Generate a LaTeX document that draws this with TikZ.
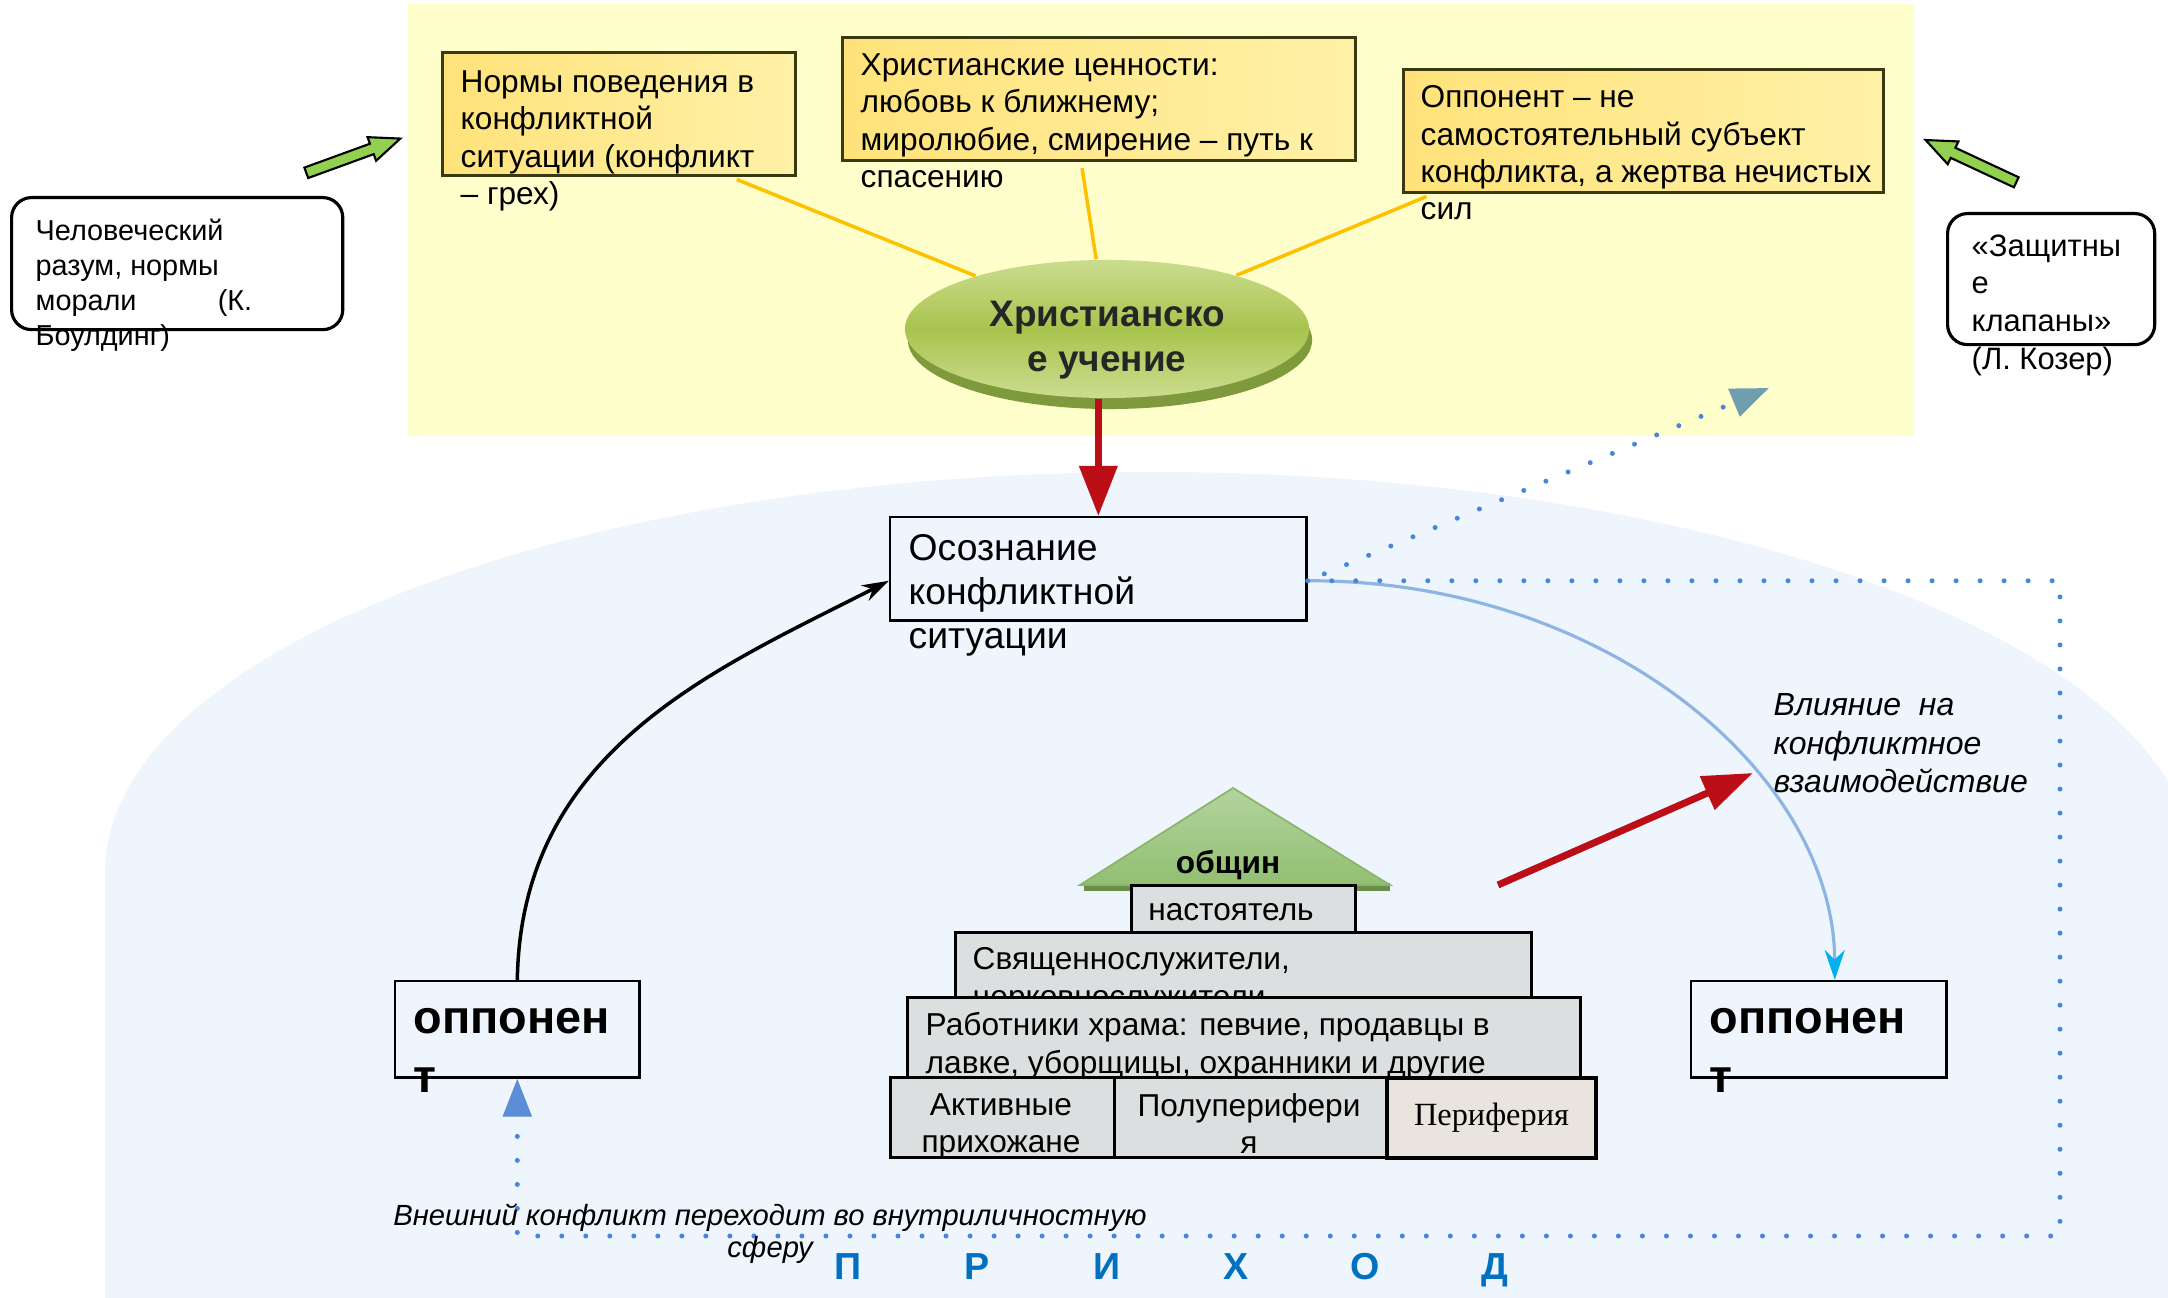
\documentclass[tikz,border=0pt]{standalone}
\usepackage{fontspec}
\setmainfont{Liberation Sans}
\newfontfamily\serifcyr{Liberation Serif}
\usetikzlibrary{positioning,shapes.geometric,shapes.arrows,arrows.meta,shadows}

\definecolor{bgyellow}{HTML}{FFFFCC}
\definecolor{bgblue}{HTML}{EEF5FD}
\definecolor{boxyellowA}{HTML}{FFE27A}
\definecolor{boxyellowB}{HTML}{FFF1A8}
\definecolor{boxborder}{HTML}{3A3A12}
\definecolor{linkyellow}{HTML}{FFC000}
\definecolor{elgreen}{HTML}{A9C34E}
\definecolor{elgreenlight}{HTML}{CADD8F}
\definecolor{elshadow}{HTML}{7E9A3C}
\definecolor{arrgreen}{HTML}{92D050}
\definecolor{redarrow}{HTML}{BC0E17}
\definecolor{dotblue}{HTML}{4A86D8}
\definecolor{tipblue}{HTML}{5B8ED6}
\definecolor{curveblue}{HTML}{8DB4E2}
\definecolor{tipcyan}{HTML}{00B0F0}
\definecolor{tipteal}{HTML}{6F9FAF}
\definecolor{roofgreen}{HTML}{92BF72}
\definecolor{rooflight}{HTML}{B3D49E}
\definecolor{roofdark}{HTML}{6A8E4A}
\definecolor{roofborder}{HTML}{8BB56B}
\definecolor{tiergray}{HTML}{DCDFE0}
\definecolor{tierbeige}{HTML}{E9E5DE}
\definecolor{prihodblue}{HTML}{0070C0}

\begin{document}
\begin{tikzpicture}[x=0.01cm, y=-0.01cm,
            ybox/.style={draw=boxborder, line width=0.9pt, left color=boxyellowA, right color=boxyellowB, rectangle, inner sep=0pt, anchor=north west},
            note/.style={draw, line width=0.9pt, fill=white, rounded corners=0.2cm, inner sep=0pt, anchor=north west},
            framebox/.style={draw, line width=0.7pt, fill=bgblue, rectangle, inner sep=0pt, anchor=north west},
            tier/.style={draw, line width=0.8pt, fill=tiergray, rectangle, inner sep=0pt, anchor=north west, align=center, font=\fontsize{9}{10.6}\selectfont},
            txt/.style={inner sep=0pt, anchor=north west, align=left},
            boxfont/.style={font=\fontsize{9}{10.6}\selectfont},
            oppfont/.style={font=\bfseries\fontsize{13.3}{16.8}\selectfont},
            link/.style={linkyellow, line width=1pt, shorten <=0.06cm},
            greenarrow/.style={single arrow, draw=black, line width=0.6pt, fill=arrgreen, minimum height=1cm, inner xsep=0pt, inner ysep=0.045cm, single arrow head extend=0.07cm, single arrow tip angle=45},
            redline/.style={redarrow, line width=0.07cm, -{Triangle[width=0.37cm, length=0.5cm]}},
            dotline/.style={dotblue, line width=0.05cm, line cap=round, dash pattern=on 0pt off 0.24cm}
        ]

        \useasboundingbox (0, 0) rectangle (2168, 1298);
        \fill [bgyellow] (408, 4) rectangle (1914, 436);
        \fill [bgblue] (105, 1298) -- (105, 872)
            .. controls (105, 651) and (573, 472) .. (1150, 472)
            .. controls (1727, 472) and (2195, 651) .. (2195, 872) -- (2195, 1298) -- cycle;

        \node [ybox, minimum width=3.53cm, minimum height=1.23cm] (norms) at (441, 51) {};
        \node [txt, boxfont] (normstxt) at (460, 70) {Нормы поведения в\\конфликтной\\ситуации (конфликт\\– грех)};
        \node [ybox, minimum width=5.13cm, minimum height=1.23cm] (values) at (841, 36) {};
        \node [txt, boxfont] (valuestxt) at (860, 53) {Христианские ценности:\\любовь к ближнему;\\миролюбие, смирение – путь к\\спасению};
        \node [ybox, minimum width=4.8cm, minimum height=1.23cm] (victim) at (1402, 68) {};
        \node [txt, boxfont] (victimtxt) at (1420, 85) {Оппонент – не\\самостоятельный субъект\\конфликта, а жертва нечистых\\сил};

        \fill [elshadow] (1110, 340) ellipse [x radius=2.02cm, y radius=0.69cm];
        \node [ellipse, minimum width=4.04cm, minimum height=1.38cm, inner sep=0pt, top color=elgreenlight, bottom color=elgreenlight, middle color=elgreen] (doctrine) at (1107, 329) {};
        \node [align=center, inner sep=0pt, text=black!85, font=\bfseries\fontsize{10.5}{12.8}\selectfont] (doctrinetxt) at (1107, 340) {Христианско\\е учение};

        \draw [link] ([xshift=2.9cm]norms.south west) -- (doctrine);
        \draw [link] ([xshift=2.4cm]values.south west) -- (doctrine);
        \draw [link] ([xshift=0.3cm]victim.south west) -- (doctrine);

        \node [note, minimum width=3.31cm, minimum height=1.32cm] (boulding) at (10, 196) {};
        \node [txt, font=\fontsize{8.2}{10}\selectfont] (bouldingtxt) at (35, 218) {Человеческий\\разум, нормы\\\makebox[1.82cm][l]{морали}(К.\\Боулдинг)};
        \node [note, minimum width=2.07cm, minimum height=1.31cm] (coser) at (1946, 212) {};
        \node [txt, font=\fontsize{8.8}{10.7}\selectfont] (cosertxt) at (1971, 234) {«Защитны\\е\\клапаны»\\(Л. Козер)};

        \node [greenarrow, rotate=20] (toleft) at (347, 158) {};
        \node [greenarrow, rotate=155] (toright) at (1977, 164) {};

        \node [framebox, minimum width=4.16cm, minimum height=1.03cm] (osozn) at (889, 516) {};
        \node [txt, font=\fontsize{10.6}{12.5}\selectfont] (osozntxt) at (908, 534) {Осознание\\конфликтной\\ситуации};
        \coordinate (osozout) at ([yshift=-0.12cm]osozn.east);
        \coordinate (osozin) at ([yshift=-0.12cm]osozn.west);

        \draw [redline] (doctrine.south -| osozn.north) -- (osozn.north);

        \node [framebox, minimum width=2.44cm, minimum height=0.96cm] (oppl) at (394, 980) {};
        \node [txt, oppfont] (oppltxt) at (413, 1008) {оппонен\\т};
        \node [framebox, minimum width=2.55cm, minimum height=0.96cm] (oppr) at (1690, 980) {};
        \node [txt, oppfont] (opprtxt) at (1709, 1008) {оппонен\\т};

        \fill [roofdark] (1084, 883) rectangle (1390, 891);
        \path [top color=rooflight, bottom color=roofgreen, draw=roofborder, line width=0.5pt] (1233, 788) -- (1390, 885) -- (1080, 885) -- cycle;
        \node [font=\bfseries\fontsize{9}{10}\selectfont] (community) at (1228, 865) {общин};

        \node [tier, minimum width=2.24cm, minimum height=0.48cm] (rector) at (1130, 884) {};
        \node [font=\fontsize{9}{10.6}\selectfont, inner sep=0pt] (rectortxt) at (1231, 912) {настоятель};
        \node [tier, minimum width=5.76cm, minimum height=0.65cm] (clergy) at (954, 931) {};
        \node [txt, boxfont] (clergytxt) at (972, 947) {Священнослужители,\\церковнослужители};
        \node [tier, minimum width=6.73cm, minimum height=0.8cm] (workers) at (906, 996) {};
        \node [txt, boxfont] (workerstxt) at (925, 1012) {Работники храма: певчие, продавцы в\\лавке, уборщицы, охранники и другие};
        \node [tier, minimum width=2.24cm, minimum height=0.8cm] (active) at (889, 1076) {};
        \node [inner sep=0pt, align=center, anchor=north, font=\fontsize{9}{10.6}\selectfont] (activetxt) at (1001, 1093) {Активные\\прихожане};
        \node [tier, minimum width=2.72cm, minimum height=0.8cm] (semi) at (1113, 1076) {};
        \node [inner sep=0pt, align=center, anchor=north, font=\fontsize{9}{10.6}\selectfont] (semitxt) at (1249, 1093) {Полуперифери\\я};
        \node [tier, fill=tierbeige, line width=1.1pt, minimum width=2.09cm, minimum height=0.8cm, font=\serifcyr\fontsize{9.2}{10.6}\selectfont, drop shadow={shadow xshift=0.02cm, shadow yshift=-0.02cm, opacity=0.4}] (periphery) at (1385, 1076) {Периферия};

        \node [txt, font=\itshape\fontsize{9.1}{10.9}\selectfont] (influence) at (1773, 693) {Влияние\ \ на\\конфликтное\\взаимодействие};
        \coordinate (pushfrom) at (1498, 885);
        \coordinate (pushto) at (1753, 773);
        \draw [redline, -{Triangle[width=0.35cm, length=0.5cm]}] (pushfrom) -- (pushto);

        \draw [line width=1pt, -{Stealth[length=0.27cm, width=0.17cm]}] (oppl.north) .. controls (521, 750) and (714, 670) .. (osozin);
        \draw [curveblue, line width=0.9pt, -{Stealth[length=0.3cm, width=0.2cm, color=tipcyan]}] (osozout) .. controls (1605, 580) and (1834, 773) .. ([xshift=0.16cm]oppr.north);

        \coordinate (dotcorner) at (2060, 1236);
        \coordinate (kozerdir) at (1769, 388);
        \draw [dotline, -{Triangle[width=0.28cm, length=0.38cm, color=tipblue]}] (osozout) -- (osozout -| dotcorner) -- (dotcorner) -- (dotcorner -| oppl.south) -- (oppl.south);
        \draw [dotline, shorten <=0.18cm, -{Triangle[width=0.29cm, length=0.38cm, color=tipteal]}] (osozout) -- (kozerdir);

        \node [inner sep=0pt, anchor=north, align=center, font=\itshape\fontsize{8.3}{9.2}\selectfont] (inward) at (770, 1203) {Внешний конфликт переходит во внутриличностную\\сферу};
        \foreach \letter [count=\i from 0] in {П, Р, И, Х, О, Д}
            \node [anchor=base, text=prihodblue, font=\bfseries\fontsize{10.7}{12}\selectfont] (prihod\i) at (848 + 129.4*\i, 1280) {\letter};

        \end{tikzpicture}
\end{document}
